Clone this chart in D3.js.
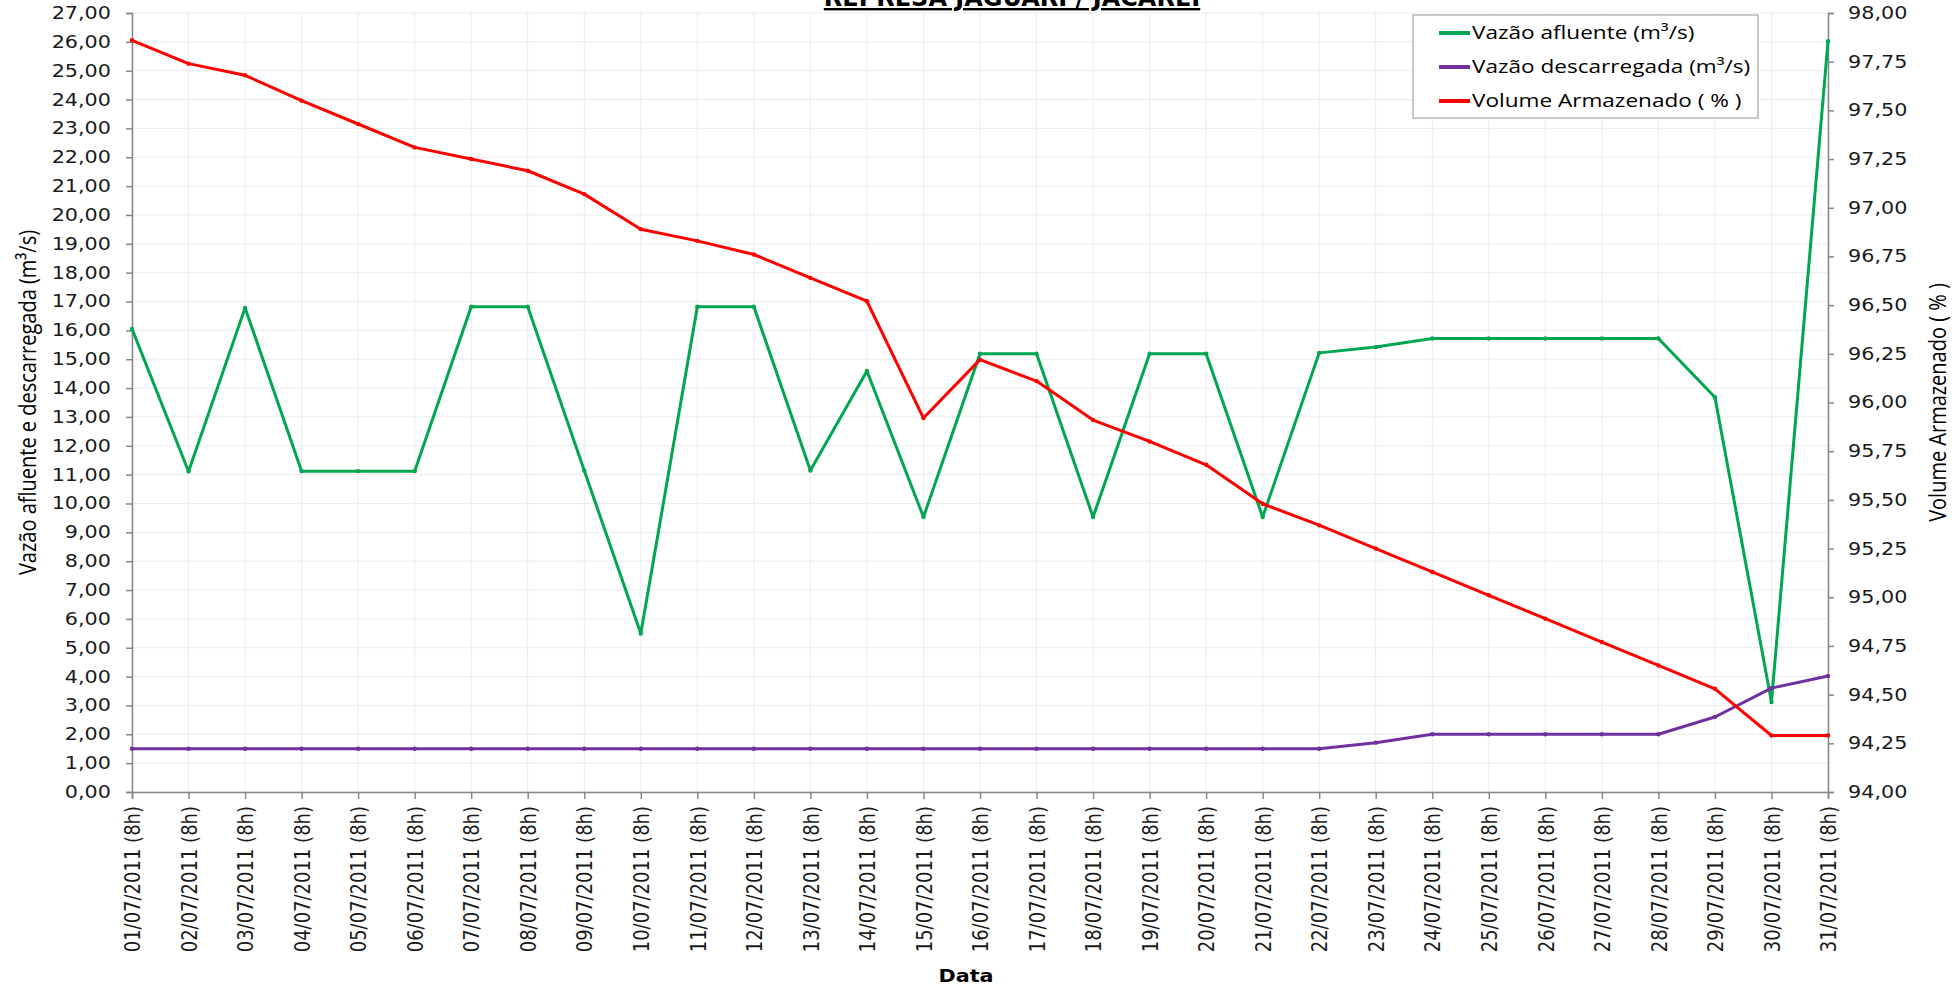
<!DOCTYPE html>
<meta charset="utf-8">
<style>
body { margin: 0; background: #fff; font-family: 'DejaVu Sans', sans-serif; }
.grid line { stroke: #ebebeb; stroke-width: 1; }
.axis path, .axis line { stroke: #868686; stroke-width: 1.5; }
.axis text { font-size: 17px; fill: #1a1a1a; font-family: 'DejaVu Sans', sans-serif; }
.ttl { font-family: 'Liberation Sans Narrow', 'Open Sans', sans-serif; font-size: 20px; fill: #000; }
.legend text { font-family: 'Liberation Sans Narrow', 'Open Sans', sans-serif; font-size: 18.5px; fill: #000; }
</style>
<svg id="chart" width="1959" height="990"></svg>
<script src="https://d3js.org/d3.v7.min.js"></script>
<script>

var dates = ["01/07/2011 (8h)", "02/07/2011 (8h)", "03/07/2011 (8h)", "04/07/2011 (8h)", "05/07/2011 (8h)",
  "06/07/2011 (8h)", "07/07/2011 (8h)", "08/07/2011 (8h)", "09/07/2011 (8h)", "10/07/2011 (8h)",
  "11/07/2011 (8h)", "12/07/2011 (8h)", "13/07/2011 (8h)", "14/07/2011 (8h)", "15/07/2011 (8h)",
  "16/07/2011 (8h)", "17/07/2011 (8h)", "18/07/2011 (8h)", "19/07/2011 (8h)", "20/07/2011 (8h)",
  "21/07/2011 (8h)", "22/07/2011 (8h)", "23/07/2011 (8h)", "24/07/2011 (8h)", "25/07/2011 (8h)",
  "26/07/2011 (8h)", "27/07/2011 (8h)", "28/07/2011 (8h)", "29/07/2011 (8h)", "30/07/2011 (8h)",
  "31/07/2011 (8h)"];

// vazão afluente (m3/s)
var afluente = [16.05, 11.11, 16.78, 11.12, 11.12, 11.12, 16.82, 16.82, 11.14, 5.49,
  16.82, 16.82, 11.14, 14.59, 9.53, 15.19, 15.19, 9.53, 15.19, 15.19,
  9.53, 15.22, 15.42, 15.72, 15.72, 15.72, 15.72, 15.72, 13.68, 3.12, 26.02];

// vazão descarregada (m3/s)
var descarregada = [1.5, 1.5, 1.5, 1.5, 1.5, 1.5, 1.5, 1.5, 1.5, 1.5,
  1.5, 1.5, 1.5, 1.5, 1.5, 1.5, 1.5, 1.5, 1.5, 1.5,
  1.5, 1.5, 1.71, 2.0, 2.0, 2.0, 2.0, 2.0, 2.6, 3.6, 4.02];

// volume armazenado (%)
var volume = [97.86, 97.74, 97.68, 97.55, 97.43, 97.31, 97.25, 97.19, 97.07, 96.89,
  96.83, 96.76, 96.64, 96.52, 95.92, 96.22, 96.11, 95.91, 95.80, 95.68,
  95.48, 95.37, 95.25, 95.13, 95.01, 94.89, 94.77, 94.65, 94.53, 94.29, 94.29];

var leftTicks = d3.range(0, 28, 1);
var rightTicks = d3.range(94, 98.01, 0.25);

var series = [
  {name: "Vazão afluente (m³/s)", values: afluente, color: "#00a650", axis: "left"},
  {name: "Vazão descarregada (m³/s)", values: descarregada, color: "#7030a0", axis: "left"},
  {name: "Volume Armazenado ( % )", values: volume, color: "#ff0000", axis: "right"}
];

// the picture is a bit wider than tall, so text gets stretched sideways
var stretch = 1.22;

var margin = {top: 13, right: 131, bottom: 198, left: 132};
var svg = d3.select("#chart"),
    width = +svg.attr("width") - margin.left - margin.right,
    height = +svg.attr("height") - margin.top - margin.bottom;

var g = svg.append("g").attr("transform", "translate(" + margin.left + "," + margin.top + ")");

var x = d3.scalePoint().domain(dates).range([0, width]);
var yL = d3.scaleLinear().domain([0, 27]).range([height, 0]);
var yR = d3.scaleLinear().domain([94, 98]).range([height, 0]);

var fmt = function(d) { return d3.format(".2f")(d).replace(".", ","); };

function widen(sel) {
  sel.attr("transform", function() {
    var xx = +d3.select(this).attr("x");
    return "translate(" + xx + ",0) scale(" + stretch + ",1)";
  }).attr("x", 0);
}

// grid
g.append("g").attr("class", "grid")
  .selectAll("line").data(leftTicks).enter().append("line")
  .attr("x1", 0).attr("x2", width)
  .attr("y1", function(d) { return yL(d); }).attr("y2", function(d) { return yL(d); });
g.append("g").attr("class", "grid")
  .selectAll("line").data(dates).enter().append("line")
  .attr("y1", 0).attr("y2", height)
  .attr("x1", function(d) { return x(d); }).attr("x2", function(d) { return x(d); });

// axes
g.append("g").attr("class", "axis")
  .call(d3.axisLeft(yL).tickValues(leftTicks).tickFormat(fmt).tickSize(6).tickPadding(15))
  .selectAll("text").call(widen);
g.append("g").attr("class", "axis")
  .attr("transform", "translate(" + width + ",0)")
  .call(d3.axisRight(yR).tickValues(rightTicks).tickFormat(fmt).tickSize(6).tickPadding(14))
  .selectAll("text").call(widen);
var xa = g.append("g").attr("class", "axis")
  .attr("transform", "translate(0," + height + ")")
  .call(d3.axisBottom(x).tickSize(7));
xa.selectAll("text")
  .style("font-size", "18px")
  .attr("transform", "translate(0,14) scale(" + stretch + ",1) rotate(-90)")
  .attr("x", 0).attr("y", 0).attr("dy", "0.35em")
  .style("text-anchor", "end");

// lines
series.forEach(function(s) {
  var yS = s.axis == "left" ? yL : yR;
  var line = d3.line()
    .x(function(d, i) { return x(dates[i]); })
    .y(function(d) { return yS(d); });
  g.append("path").datum(s.values)
    .attr("fill", "none").attr("stroke", s.color)
    .attr("stroke-width", 3).attr("stroke-linejoin", "round")
    .attr("d", line);
  g.append("g").selectAll("circle").data(s.values).enter().append("circle")
    .attr("cx", function(d, i) { return x(dates[i]); })
    .attr("cy", function(d) { return yS(d); })
    .attr("r", 2.2).attr("fill", s.color);
});

// titles
svg.append("text")
  .attr("x", 1012).attr("y", 6)
  .attr("text-anchor", "middle")
  .style("font-family", "'DejaVu Sans', sans-serif")
  .style("font-weight", "bold").style("font-size", "24px")
  .style("text-decoration", "underline")
  .text("REPRESA JAGUARI / JACAREÍ");

svg.append("text").attr("class", "ttl")
  .attr("transform", "translate(27," + (margin.top + height / 2) + ") scale(" + stretch + ",1) rotate(-90)")
  .attr("text-anchor", "middle").attr("dy", "0.35em")
  .text("Vazão afluente e descarregada (m³/s)");

svg.append("text").attr("class", "ttl")
  .attr("transform", "translate(1937," + (margin.top + height / 2) + ") scale(" + stretch + ",1) rotate(-90)")
  .attr("text-anchor", "middle").attr("dy", "0.35em")
  .text("Volume Armazenado ( % )");

svg.append("text")
  .attr("transform", "translate(966,982) scale(" + stretch + ",1)")
  .attr("text-anchor", "middle")
  .style("font-weight", "bold").style("font-size", "17px")
  .text("Data");

// legend
var legend = svg.append("g").attr("class", "legend")
  .attr("transform", "translate(1413,15)");
legend.append("rect")
  .attr("width", 345).attr("height", 103)
  .attr("fill", "#fff").attr("stroke", "#a6a6a6").attr("stroke-width", 1.2);
var item = legend.selectAll(".item").data(series).enter().append("g")
  .attr("transform", function(d, i) { return "translate(0," + (18 + i * 34) + ")"; });
item.append("line")
  .attr("x1", 26).attr("x2", 57)
  .attr("stroke", function(d) { return d.color; }).attr("stroke-width", 4);
item.append("text")
  .attr("transform", "translate(59,0) scale(" + stretch + ",1)")
  .attr("dy", "0.35em")
  .text(function(d) { return d.name; });

</script>
